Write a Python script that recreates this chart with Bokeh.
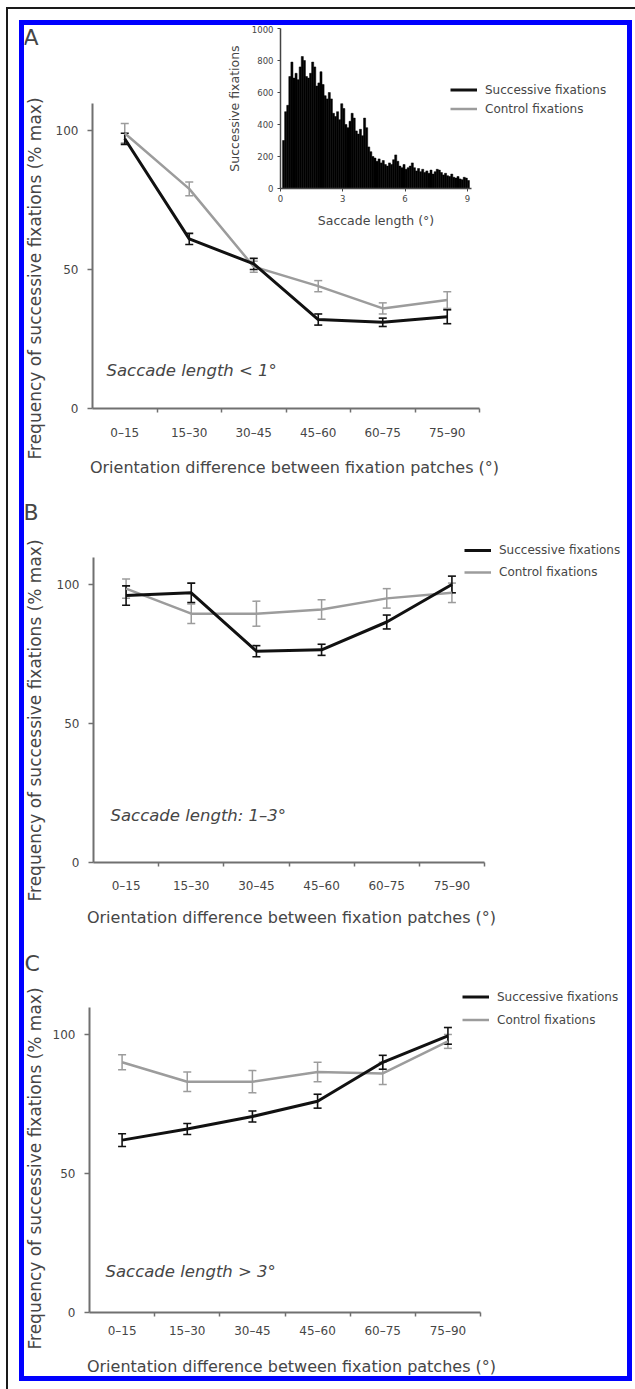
import numpy as np
from bokeh.plotting import figure
from bokeh.models import (Range1d, FixedTicker, Legend, LegendItem, Label,
                          Whisker, TeeHead, ColumnDataSource, LinearAxis, Spacer)
from bokeh.layouts import column, row
from bokeh.embed import file_html
from bokeh.resources import INLINE

# ---------------- data ----------------
categories = ["0–15", "15–30", "30–45", "45–60", "60–75", "75–90"]

a_succ = [97, 61, 52, 32, 31, 33]
a_succ_err = [2, 2, 2, 2, 1.5, 2.5]
a_ctrl = [99, 79, 51, 44, 36, 39]
a_ctrl_err = [3.5, 2.5, 2, 2, 2, 3]

b_succ = [96, 97, 76, 76.5, 86.5, 100]
b_succ_err = [3.5, 3.5, 2, 2, 2.5, 3]
b_ctrl = [98.5, 89.5, 89.5, 91, 95, 97]
b_ctrl_err = [3.5, 3.5, 4.5, 3.5, 3.5, 3.5]

c_succ = [62, 66, 70.5, 76, 90, 99.5]
c_succ_err = [2.3, 2, 2, 2.5, 2.5, 3]
c_ctrl = [90, 83, 83, 86.5, 86, 97.5]
c_ctrl_err = [2.7, 3.5, 4, 3.5, 4, 2.5]

y_ticks = [0, 50, 100]
y_axis_top = 109.7

x_title = "Orientation difference between fixation patches (°)"
y_title = "Frequency of successive fixations (% max)"

hist_bin_width = 0.1
hist_counts = [300, 480, 520, 700, 790, 690, 720, 680, 760, 825,
               800, 700, 690, 720, 790, 760, 640, 660, 730, 650,
               580, 560, 600, 560, 470, 450, 480, 430, 530, 500,
               400, 380, 420, 470, 440, 360, 340, 370, 330, 440,
               380, 260, 230, 200, 190, 170, 185, 160, 175, 150,
               140, 160, 150, 180, 210, 170, 140, 130, 150, 120,
               130, 140, 160, 130, 110, 125, 105, 120, 100, 110,
               95, 115, 90, 105, 120, 115, 100, 85, 95, 80,
               75, 90, 70, 65, 75, 60, 55, 70, 65, 50]
hist_centers = [round(0.15 + i * hist_bin_width, 2) for i in range(len(hist_counts))]
hist_x_ticks = [0, 3, 6, 9]
hist_y_ticks = [0, 200, 400, 600, 800, 1000]
hist_x_max = 9.2
hist_y_max = 1000

FONT = "DejaVu Sans"
TXT = "#464646"
AX = "#707070"
BLACK = "#111111"
GRAY = "#9c9c9c"

W = 603          # width of every panel figure (inside the blue frame)
FX0 = 24         # page x of the figures' left edge


def ranges_for(fig_top, h, ax_left, ax_right, ax_bottom, ax_top, n, vtop, x0=0.5):
    """Ranges so that the whole canvas is the frame and the axes land at the
    wanted pixel places."""
    sx = (ax_right - ax_left) / n
    sy = (ax_bottom - ax_top) / vtop
    xs = x0 - (ax_left - FX0) / sx
    xe = xs + W / sx
    ys = -(fig_top + h - ax_bottom) / sy
    ye = ys + h / sy
    return (xs, xe), (ys, ye)


def style_axis(ax, tick_col=AX):
    ax.axis_line_color = tick_col
    ax.major_label_text_font = FONT
    ax.major_label_text_color = TXT
    ax.axis_label_text_font = FONT
    ax.axis_label_text_color = TXT
    ax.axis_label_text_font_style = "normal"


def make_panel(letter, succ, succ_err, ctrl, ctrl_err, note, g):
    n = len(categories)
    (xs, xe), (ys, ye) = ranges_for(g["top"], g["h"], g["al"], g["ar"], g["ab"],
                                    g["at"], n, y_axis_top)
    sx = (g["ar"] - g["al"]) / n
    sy = (g["ab"] - g["at"]) / y_axis_top

    def at(px, py):  # page pixel -> this panel's data coordinates (for texts)
        return 0.5 + (px - g["al"]) / sx, (g["ab"] - py) / sy

    p = figure(width=W, height=g["h"], x_range=Range1d(xs, xe),
               y_range=Range1d(ys, ye), output_backend="svg",
               toolbar_location=None,
               min_border_left=0, min_border_right=0,
               min_border_top=0, min_border_bottom=0)
    p.background_fill_color = None
    p.border_fill_color = None
    p.outline_line_color = None
    p.grid.visible = False

    xpos = [i + 1 for i in range(n)]
    src_c = ColumnDataSource(dict(x=xpos, y=ctrl,
                                  lo=[v - e for v, e in zip(ctrl, ctrl_err)],
                                  hi=[v + e for v, e in zip(ctrl, ctrl_err)]))
    src_s = ColumnDataSource(dict(x=xpos, y=succ,
                                  lo=[v - e for v, e in zip(succ, succ_err)],
                                  hi=[v + e for v, e in zip(succ, succ_err)]))

    for src, col, lw in ((src_c, GRAY, 1.5), (src_s, BLACK, 1.6)):
        p.add_layout(Whisker(source=src, base="x", lower="lo", upper="hi",
                             line_color=col, line_width=lw,
                             upper_head=TeeHead(size=8, line_color=col, line_width=lw),
                             lower_head=TeeHead(size=8, line_color=col, line_width=lw)))
    r_c = p.line("x", "y", source=src_c, line_color=GRAY, line_width=2.5)
    r_s = p.line("x", "y", source=src_s, line_color=BLACK, line_width=3)

    xa = p.xaxis[0]
    xa.fixed_location = 0
    xa.bounds = (0.5, n + 0.5)
    xa.ticker = FixedTicker(ticks=xpos, minor_ticks=[x + 0.5 for x in xpos])
    xa.major_label_overrides = {x: c for x, c in zip(xpos, categories)}
    xa.major_tick_line_color = None
    xa.major_tick_out = 4
    xa.major_tick_in = 0
    xa.minor_tick_line_color = AX
    xa.minor_tick_line_width = 1.5
    xa.minor_tick_out = 4
    xa.minor_tick_in = 0
    xa.axis_line_width = 2
    xa.major_label_standoff = g["xls"]
    xa.major_label_text_font_size = "12px"
    style_axis(xa)

    ya = p.yaxis[0]
    ya.fixed_location = 0.5
    ya.bounds = (0, y_axis_top)
    ya.ticker = FixedTicker(ticks=y_ticks)
    ya.major_tick_line_color = AX
    ya.major_tick_line_width = 1.5
    ya.major_tick_out = 5
    ya.major_tick_in = 0
    ya.minor_tick_line_color = None
    ya.axis_line_width = 2
    ya.major_label_standoff = 9
    ya.major_label_text_font_size = "12px"
    style_axis(ya)

    # axis titles (placed where the reference has them)
    tx, ty = at(*g["xt"])
    p.add_layout(Label(x=tx, y=ty, text=x_title, text_font=FONT,
                       text_font_size="16px", text_color=TXT,
                       text_align="center", text_baseline="middle"))
    tx, ty = at(*g["yt"])
    p.add_layout(Label(x=tx, y=ty, text=y_title, text_font=FONT,
                       text_font_size="17px", text_color=TXT, angle=np.pi / 2,
                       text_align="center", text_baseline="middle"))

    leg = Legend(items=[LegendItem(label="Successive fixations", renderers=[r_s]),
                        LegendItem(label="Control fixations", renderers=[r_c])],
                 location=g["leg"], orientation="vertical",
                 padding=0, spacing=0, margin=0,
                 glyph_width=27, glyph_height=g["pitch"], label_height=g["pitch"],
                 label_standoff=8,
                 label_text_font=FONT, label_text_font_size="12px",
                 label_text_color=TXT,
                 border_line_color=None, background_fill_alpha=0)
    p.add_layout(leg)

    lx, ly = at(*g["letter"])
    p.add_layout(Label(x=lx, y=ly, text=letter,
                       text_font=FONT, text_font_size="22px", text_color=TXT,
                       text_baseline="middle"))
    nx, ny = at(*g["note"])
    p.add_layout(Label(x=nx, y=ny, text=note,
                       text_font=FONT, text_font_size="16.5px",
                       text_font_style="italic", text_color=TXT,
                       text_baseline="middle"))
    return p


geomA = dict(top=25, h=463, al=92, ar=479, ab=408, at=103, xls=13,
             xt=(294, 467), yt=(34, 278),
             leg=(426, 370), pitch=19, letter=(23, 37), note=(106, 370))
geomB = dict(top=488, h=447, al=93, ar=484, ab=862, at=557, xls=12,
             xt=(291, 917), yt=(34, 720),
             leg=(440, 352), pitch=22, letter=(23, 512), note=(110, 815))
geomC = dict(top=935, h=441, al=89, ar=480, ab=1312, at=1007, xls=7,
             xt=(291, 1366), yt=(34, 1168),
             leg=(438, 345), pitch=23, letter=(24, 963), note=(105, 1271))

pA = make_panel("A", a_succ, a_succ_err, a_ctrl, a_ctrl_err, "Saccade length < 1°", geomA)
pB = make_panel("B", b_succ, b_succ_err, b_ctrl, b_ctrl_err, "Saccade length: 1–3°", geomB)
pC = make_panel("C", c_succ, c_succ_err, c_ctrl, c_ctrl_err, "Saccade length > 3°", geomC)

# ---------------- inset histogram (in panel A, own ranges) ----------------
(ixs, ixe), (iys, iye) = ranges_for(25, 463, 280, 471, 188, 28, hist_x_max, hist_y_max, x0=0)
pA.extra_x_ranges = {"ins_x": Range1d(ixs, ixe)}
pA.extra_y_ranges = {"ins_y": Range1d(iys, iye)}
pA.vbar(x=hist_centers, top=hist_counts, width=hist_bin_width,
        fill_color="black", line_color="black", line_width=0.5,
        x_range_name="ins_x", y_range_name="ins_y")

ix = LinearAxis(x_range_name="ins_x", y_range_name="ins_y", fixed_location=0,
                bounds=(0, hist_x_max), ticker=FixedTicker(ticks=hist_x_ticks),
                axis_label="Saccade length (°)")
iy = LinearAxis(x_range_name="ins_x", y_range_name="ins_y", fixed_location=0,
                bounds=(0, hist_y_max), ticker=FixedTicker(ticks=hist_y_ticks),
                axis_label="Successive fixations")
for ax in (ix, iy):
    style_axis(ax, "#444444")
    ax.axis_line_width = 1.5
    ax.major_tick_line_color = "#444444"
    ax.major_tick_out = 3
    ax.major_tick_in = 0
    ax.minor_tick_line_color = None
    ax.major_label_text_font_size = "8.5px"
    ax.axis_label_text_font_size = "12.5px"
ix.major_label_standoff = 3
ix.axis_label_standoff = 8
iy.major_label_standoff = 4
iy.axis_label_standoff = 7
pA.add_layout(ix, "below")
pA.add_layout(iy, "left")

# blue frame with the black rule 11px outside it; the page itself has no margin
blue = column(pA, pB, pC,
              styles={"border": "5px solid #0000ff",
                      "background-color": "white", "backgroundColor": "white",
                      "outline": "2px solid #1a1a1a",
                      "outline-offset": "11px", "outlineOffset": "11px"})
page = column(Spacer(width=1, height=20),
              row(Spacer(width=19, height=1), blue))

open("out.html", "w").write(file_html(page, INLINE))
